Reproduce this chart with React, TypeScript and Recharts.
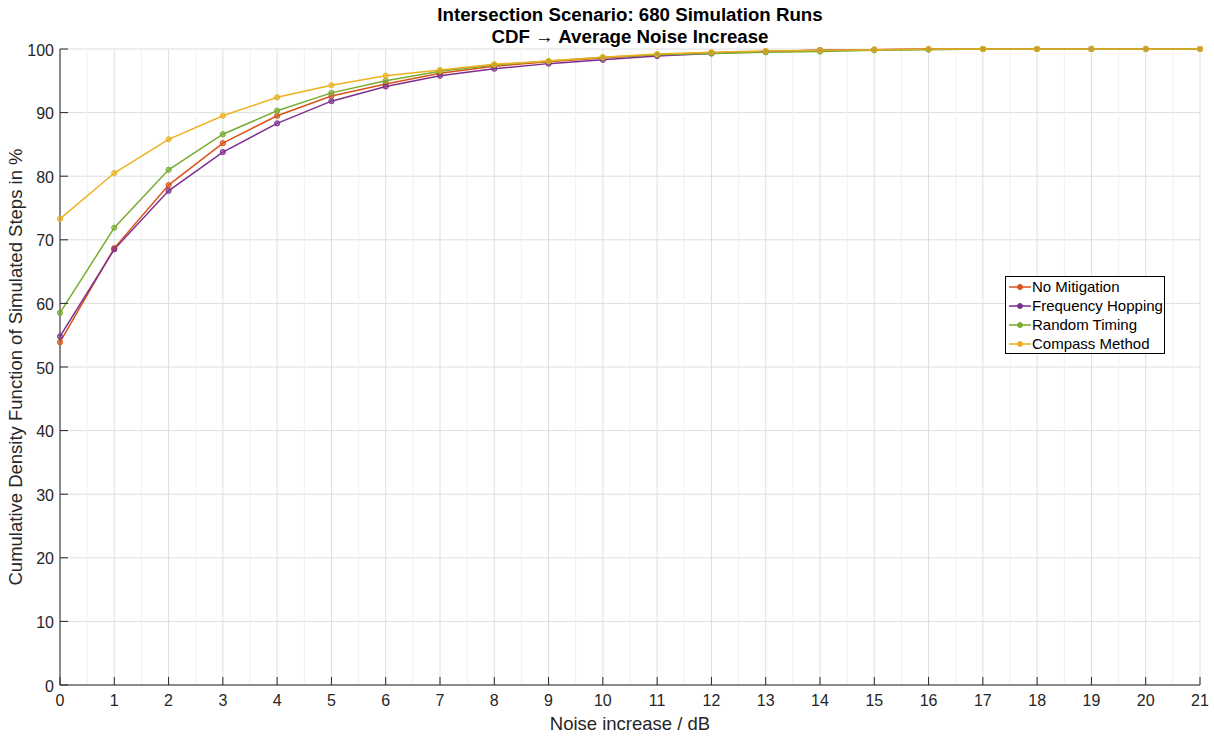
import { LineChart, Line, XAxis, YAxis, CartesianGrid, Legend, ReferenceLine } from 'recharts';

const NOISE_DB = [0, 1, 2, 3, 4, 5, 6, 7, 8, 9, 10, 11, 12, 13, 14, 15, 16, 17, 18, 19, 20, 21];
const NO_MITIGATION = [53.9, 68.7, 78.6, 85.2, 89.5, 92.6, 94.5, 96.2, 97.3, 98.0, 98.6, 99.1, 99.4, 99.6, 99.8, 99.9, 100, 100, 100, 100, 100, 100];
const FREQ_HOPPING = [54.8, 68.5, 77.7, 83.8, 88.3, 91.8, 94.1, 95.8, 96.9, 97.7, 98.3, 98.9, 99.3, 99.6, 99.8, 99.9, 99.95, 100, 100, 100, 100, 100];
const RANDOM_TIMING = [58.5, 71.9, 81.0, 86.6, 90.3, 93.1, 95.0, 96.5, 97.5, 98.1, 98.7, 99.1, 99.3, 99.5, 99.6, 99.8, 99.9, 100, 100, 100, 100, 100];
const COMPASS = [73.3, 80.5, 85.8, 89.5, 92.4, 94.3, 95.8, 96.7, 97.6, 98.1, 98.7, 99.2, 99.5, 99.7, 99.8, 99.9, 100, 100, 100, 100, 100, 100];

const X_TICKS = NOISE_DB;
const X_MINOR = NOISE_DB.slice(0, -1).map(v => v + 0.5);
const Y_TICKS = [0, 10, 20, 30, 40, 50, 60, 70, 80, 90, 100];

const SERIES = [
  { key: 'noMit', name: 'No Mitigation', color: '#D95319', values: NO_MITIGATION },
  { key: 'freqHop', name: 'Frequency Hopping', color: '#7E2F8E', values: FREQ_HOPPING },
  { key: 'random', name: 'Random Timing', color: '#77AC30', values: RANDOM_TIMING },
  { key: 'compass', name: 'Compass Method', color: '#EDB120', values: COMPASS },
];

const FONT = '"Liberation Sans", Arial, sans-serif';
const AXIS = '#262626';

const chartData = NOISE_DB.map((x, i) => {
  const row: Record<string, number> = { x };
  SERIES.forEach(s => { row[s.key] = s.values[i]; });
  return row;
});

function LegendBox() {
  return (
    <div style={{ border: '1px solid #000', background: '#fff', padding: '0 1px 0 2px', fontFamily: FONT, fontSize: 15, color: '#000' }}>
      {SERIES.map(s => (
        <div key={s.key} style={{ display: 'flex', alignItems: 'center', height: 19, whiteSpace: 'nowrap' }}>
          <svg width={24} height={10}>
            <line x1={1} y1={5} x2={23} y2={5} stroke={s.color} strokeWidth={1.5} />
            <circle cx={12} cy={5} r={2.5} fill={s.color} stroke={s.color} />
          </svg>
          <span>{s.name}</span>
        </div>
      ))}
    </div>
  );
}

export default function App() {
  return (
    <div style={{ position: 'absolute', left: 0, top: 0, width: 1214, height: 736, background: '#fff', fontFamily: FONT }}>
      <div style={{ position: 'absolute', left: 0, top: 4, width: 1260, textAlign: 'center', fontWeight: 'bold', fontSize: 18.7, lineHeight: '22px', color: '#000' }}>
        <div>Intersection Scenario: 680 Simulation Runs</div>
        <div>CDF → Average Noise Increase</div>
      </div>
      <LineChart width={1214} height={736} data={chartData} margin={{ top: 49, right: 14, bottom: 0, left: 0 }}>
        <CartesianGrid stroke="#dedede" />
        {X_MINOR.map(v => (
          <ReferenceLine key={v} x={v} stroke="#f0f0f0" ifOverflow="hidden" />
        ))}
        <XAxis
          dataKey="x"
          type="number"
          domain={[0, 21]}
          ticks={X_TICKS}
          interval={0}
          height={51}
          stroke={AXIS}
          tickSize={-8}
          tickMargin={18}
          tick={{ fontSize: 16, fill: AXIS, fontFamily: FONT }}
          label={({ viewBox }: any) => (
            <text x={viewBox.x + viewBox.width / 2} y={730} textAnchor="middle" fontSize={18.5} fill={AXIS} fontFamily={FONT}>
              Noise increase / dB
            </text>
          )}
        />
        <XAxis xAxisId="top" orientation="top" dataKey="x" type="number" domain={[0, 21]} ticks={X_TICKS} interval={0} height={0} stroke={AXIS} tickSize={-8} tick={false} />
        <YAxis
          domain={[0, 100]}
          ticks={Y_TICKS}
          interval={0}
          width={60}
          stroke={AXIS}
          tickSize={-8}
          tickMargin={14}
          tick={{ fontSize: 16, fill: AXIS, fontFamily: FONT, dy: 1 }}
          label={({ viewBox }: any) => {
            const cy = viewBox.y + viewBox.height / 2;
            return (
              <text x={15} y={cy} transform={`rotate(-90 15 ${cy})`} textAnchor="middle" dominantBaseline="central" fontSize={18.5} fill={AXIS} fontFamily={FONT}>
                Cumulative Density Function of Simulated Steps in %
              </text>
            );
          }}
        />
        <YAxis yAxisId="right" orientation="right" domain={[0, 100]} ticks={Y_TICKS} interval={0} width={0} stroke={AXIS} tickSize={-8} tick={false} />
        {SERIES.map(s => (
          <Line
            key={s.key}
            dataKey={s.key}
            name={s.name}
            stroke={s.color}
            strokeWidth={1.5}
            dot={{ r: 2.6, fill: s.color, fillOpacity: 0.6, stroke: s.color, strokeWidth: 1 }}
            isAnimationActive={false}
          />
        ))}
        <Legend layout="vertical" align="center" verticalAlign="middle" content={() => <LegendBox />} wrapperStyle={{ left: 1005, top: 276, width: 'auto' }} />
      </LineChart>
    </div>
  );
}
